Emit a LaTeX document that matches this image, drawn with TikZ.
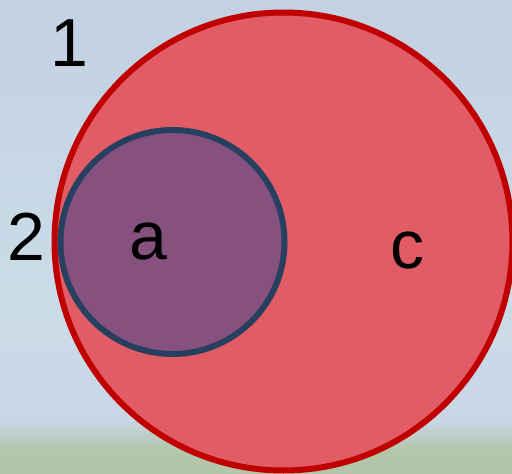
\documentclass[tikz,border=0pt]{standalone}
\usepackage{fontspec}
\setmainfont{Liberation Sans}
\begin{document}
\begin{tikzpicture}[x=1pt,y=-1pt,
  lbl/.style={inner sep=0pt,font=\fontsize{68}{68}\selectfont},
  bigc/.style={circle,draw=bigstroke,line width=6pt,fill=bigfill,minimum size=458pt,inner sep=0pt},
  smallc/.style={circle,draw=smallstroke,line width=6pt,fill=smallfill,minimum size=224pt,inner sep=0pt}]
\definecolor{bigstroke}{HTML}{C00000}
\definecolor{bigfill}{HTML}{E15C65}
\definecolor{smallstroke}{HTML}{28405F}
\definecolor{smallfill}{HTML}{86517F}
\definecolor{skytop}{HTML}{C3D1E2}
\definecolor{skymid}{HTML}{CADCE8}
\definecolor{grass}{HTML}{B3C6AA}
\useasboundingbox (0,0) rectangle (512,474);
\shade[top color=skytop,bottom color=skymid] (0,0) rectangle (512,300);
\shade[top color=skymid,bottom color=skytop!90!white] (0,300) rectangle (512,420);
\shade[top color=skytop!90!white,bottom color=grass] (0,420) rectangle (512,450);
\fill[grass] (0,450) rectangle (512,474);
\node[bigc] (c) at (283.5,241.5) {};
\node[smallc] (a) at (172.5,242) {};
\node[lbl] (l1) at (69,43) {1};
\node[lbl] (l2) at (26,237) {2};
\node[lbl] (la) at (148,242) {a};
\node[lbl] (lc) at (407,251) {c};
\end{tikzpicture}
\end{document}
